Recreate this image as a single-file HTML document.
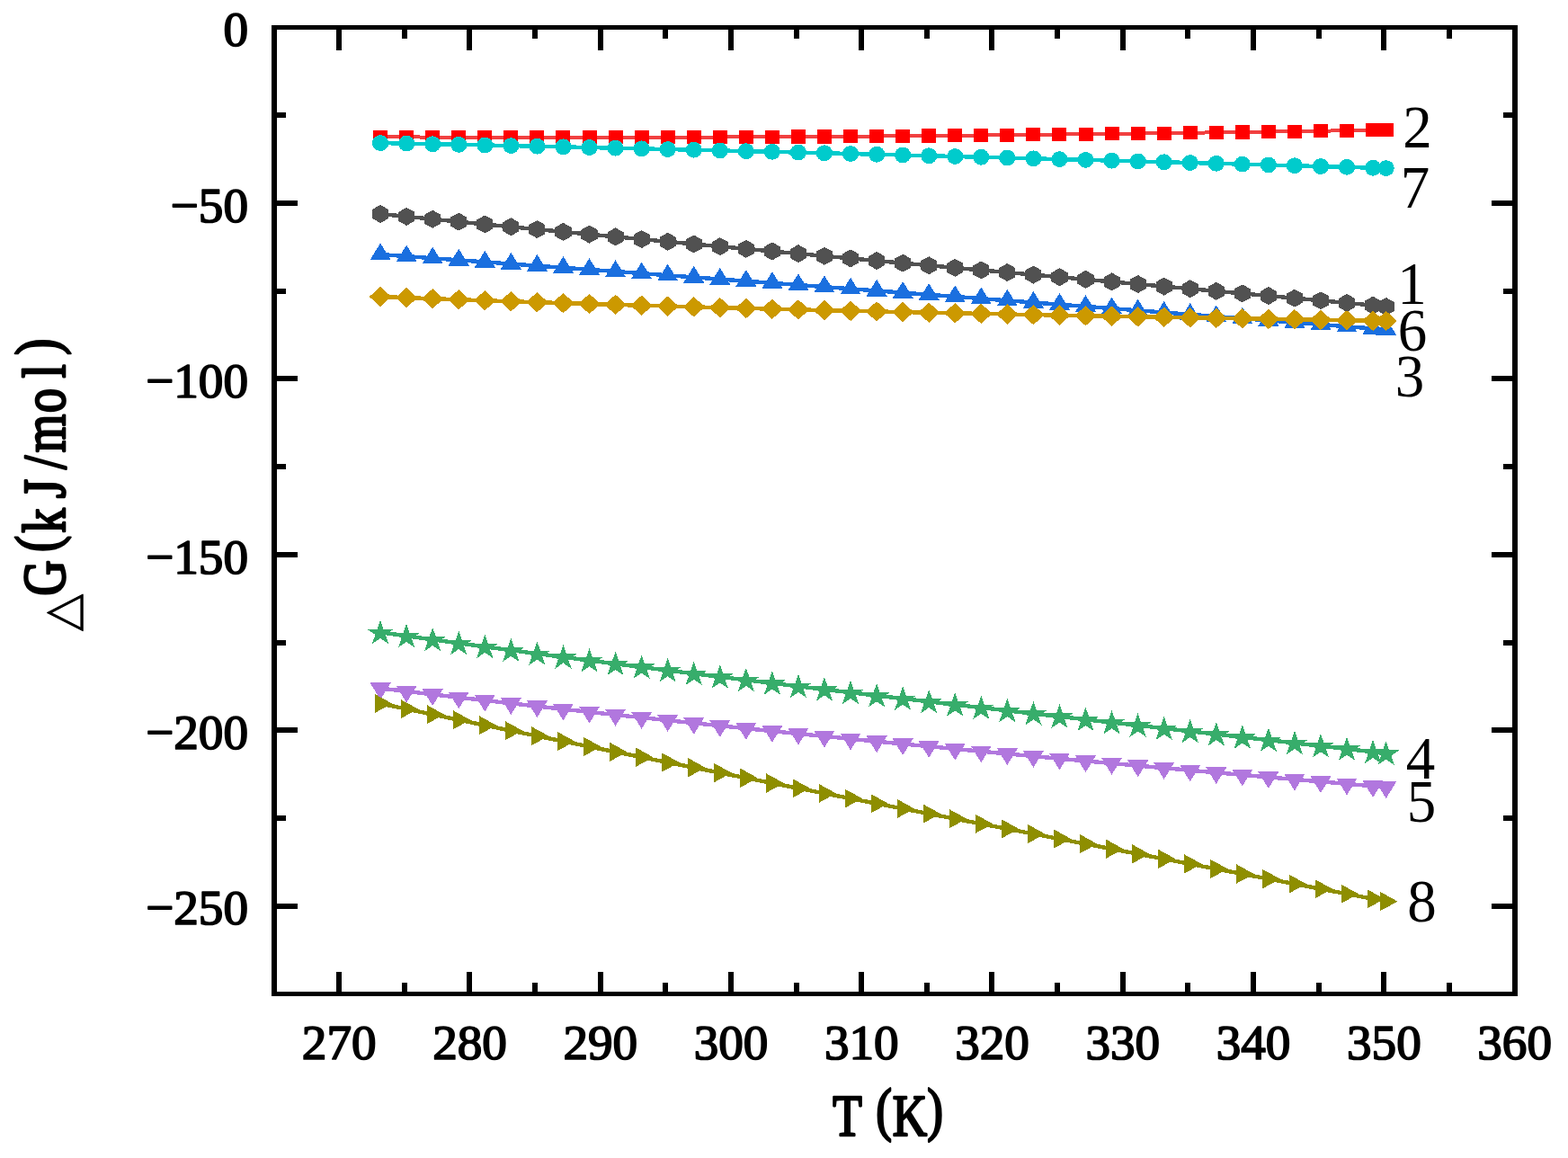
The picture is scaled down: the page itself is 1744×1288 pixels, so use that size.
<!DOCTYPE html>
<html lang="en"><head><meta charset="utf-8"><title>△G(kJ/mol) – T(K)</title>
<style>
html,body{margin:0;padding:0;background:#fff;}
body{width:1744px;height:1288px;overflow:hidden;}
svg{display:block;}
text{font-family:"Liberation Serif","Noto Serif CJK SC",serif;fill:#000;}
.tk{font-weight:normal;font-size:56px;stroke:#000;stroke-width:1.8px;stroke-linejoin:round;}
.ttl{font-weight:normal;font-size:76px;stroke:#000;stroke-width:3.0px;stroke-linejoin:round;}
.sl{font-weight:normal;font-size:65px;}
</style></head><body>
<svg width="1744" height="1288" viewBox="0 0 1744 1288">
<rect x="0" y="0" width="1744" height="1288" fill="#ffffff"/>
<g shape-rendering="crispEdges">
<polyline fill="none" stroke="#515151" stroke-width="4.4" stroke-linejoin="round" points="423.09,237.96 452.14,240.87 481.19,243.75 510.25,246.62 539.3,249.46 568.35,252.27 597.41,255.07 626.46,257.85 655.51,260.61 684.56,263.35 713.62,266.08 742.67,268.79 771.72,271.48 800.77,274.16 829.83,276.83 858.88,279.49 887.93,282.13 916.98,284.77 946.04,287.4 975.09,290.02 1004.14,292.63 1033.19,295.24 1062.25,297.84 1091.3,300.44 1120.35,303.03 1149.41,305.62 1178.46,308.22 1207.51,310.81 1236.56,313.4 1265.62,316 1294.67,318.6 1323.72,321.2 1352.77,323.81 1381.83,326.42 1410.88,329.04 1439.93,331.67 1468.98,334.3 1498.04,336.95 1527.09,339.61 1541.62,340.94"/>
<path fill="#515151" d="M423.09 227.96L432.14 232.96L432.14 242.96L423.09 247.96L414.04 242.96L414.04 232.96ZM452.14 230.87L461.19 235.87L461.19 245.87L452.14 250.87L443.09 245.87L443.09 235.87ZM481.19 233.75L490.24 238.75L490.24 248.75L481.19 253.75L472.14 248.75L472.14 238.75ZM510.25 236.62L519.3 241.62L519.3 251.62L510.25 256.62L501.2 251.62L501.2 241.62ZM539.3 239.46L548.35 244.46L548.35 254.46L539.3 259.46L530.25 254.46L530.25 244.46ZM568.35 242.27L577.4 247.27L577.4 257.27L568.35 262.27L559.3 257.27L559.3 247.27ZM597.41 245.07L606.46 250.07L606.46 260.07L597.41 265.07L588.36 260.07L588.36 250.07ZM626.46 247.85L635.51 252.85L635.51 262.85L626.46 267.85L617.41 262.85L617.41 252.85ZM655.51 250.61L664.56 255.61L664.56 265.61L655.51 270.61L646.46 265.61L646.46 255.61ZM684.56 253.35L693.61 258.35L693.61 268.35L684.56 273.35L675.51 268.35L675.51 258.35ZM713.62 256.08L722.67 261.08L722.67 271.08L713.62 276.08L704.57 271.08L704.57 261.08ZM742.67 258.79L751.72 263.79L751.72 273.79L742.67 278.79L733.62 273.79L733.62 263.79ZM771.72 261.48L780.77 266.48L780.77 276.48L771.72 281.48L762.67 276.48L762.67 266.48ZM800.77 264.16L809.82 269.16L809.82 279.16L800.77 284.16L791.72 279.16L791.72 269.16ZM829.83 266.83L838.88 271.83L838.88 281.83L829.83 286.83L820.78 281.83L820.78 271.83ZM858.88 269.49L867.93 274.49L867.93 284.49L858.88 289.49L849.83 284.49L849.83 274.49ZM887.93 272.13L896.98 277.13L896.98 287.13L887.93 292.13L878.88 287.13L878.88 277.13ZM916.98 274.77L926.03 279.77L926.03 289.77L916.98 294.77L907.93 289.77L907.93 279.77ZM946.04 277.4L955.09 282.4L955.09 292.4L946.04 297.4L936.99 292.4L936.99 282.4ZM975.09 280.02L984.14 285.02L984.14 295.02L975.09 300.02L966.04 295.02L966.04 285.02ZM1004.14 282.63L1013.19 287.63L1013.19 297.63L1004.14 302.63L995.09 297.63L995.09 287.63ZM1033.19 285.24L1042.24 290.24L1042.24 300.24L1033.19 305.24L1024.14 300.24L1024.14 290.24ZM1062.25 287.84L1071.3 292.84L1071.3 302.84L1062.25 307.84L1053.2 302.84L1053.2 292.84ZM1091.3 290.44L1100.35 295.44L1100.35 305.44L1091.3 310.44L1082.25 305.44L1082.25 295.44ZM1120.35 293.03L1129.4 298.03L1129.4 308.03L1120.35 313.03L1111.3 308.03L1111.3 298.03ZM1149.41 295.62L1158.46 300.62L1158.46 310.62L1149.41 315.62L1140.36 310.62L1140.36 300.62ZM1178.46 298.22L1187.51 303.22L1187.51 313.22L1178.46 318.22L1169.41 313.22L1169.41 303.22ZM1207.51 300.81L1216.56 305.81L1216.56 315.81L1207.51 320.81L1198.46 315.81L1198.46 305.81ZM1236.56 303.4L1245.61 308.4L1245.61 318.4L1236.56 323.4L1227.51 318.4L1227.51 308.4ZM1265.62 306L1274.67 311L1274.67 321L1265.62 326L1256.57 321L1256.57 311ZM1294.67 308.6L1303.72 313.6L1303.72 323.6L1294.67 328.6L1285.62 323.6L1285.62 313.6ZM1323.72 311.2L1332.77 316.2L1332.77 326.2L1323.72 331.2L1314.67 326.2L1314.67 316.2ZM1352.77 313.81L1361.82 318.81L1361.82 328.81L1352.77 333.81L1343.72 328.81L1343.72 318.81ZM1381.83 316.42L1390.88 321.42L1390.88 331.42L1381.83 336.42L1372.78 331.42L1372.78 321.42ZM1410.88 319.04L1419.93 324.04L1419.93 334.04L1410.88 339.04L1401.83 334.04L1401.83 324.04ZM1439.93 321.67L1448.98 326.67L1448.98 336.67L1439.93 341.67L1430.88 336.67L1430.88 326.67ZM1468.98 324.3L1478.03 329.3L1478.03 339.3L1468.98 344.3L1459.93 339.3L1459.93 329.3ZM1498.04 326.95L1507.09 331.95L1507.09 341.95L1498.04 346.95L1488.99 341.95L1488.99 331.95ZM1527.09 329.61L1536.14 334.61L1536.14 344.61L1527.09 349.61L1518.04 344.61L1518.04 334.61ZM1541.62 330.94L1550.67 335.94L1550.67 345.94L1541.62 350.94L1532.57 345.94L1532.57 335.94Z"/>
</g>
<g shape-rendering="crispEdges">
<polyline fill="none" stroke="#F14040" stroke-width="4.0" stroke-linejoin="round" points="423.09,152.28 452.14,152.44 481.19,152.57 510.25,152.68 539.3,152.77 568.35,152.83 597.41,152.87 626.46,152.88 655.51,152.88 684.56,152.85 713.62,152.8 742.67,152.73 771.72,152.64 800.77,152.53 829.83,152.4 858.88,152.25 887.93,152.09 916.98,151.9 946.04,151.7 975.09,151.48 1004.14,151.25 1033.19,151 1062.25,150.73 1091.3,150.45 1120.35,150.16 1149.41,149.85 1178.46,149.52 1207.51,149.19 1236.56,148.84 1265.62,148.48 1294.67,148.11 1323.72,147.73 1352.77,147.34 1381.83,146.93 1410.88,146.52 1439.93,146.1 1468.98,145.67 1498.04,145.24 1527.09,144.79 1541.62,144.57"/>
<path fill="#FF0000" d="M415.09 144.68L431.09 144.68L431.09 159.88L415.09 159.88ZM444.14 144.84L460.14 144.84L460.14 160.04L444.14 160.04ZM473.19 144.97L489.19 144.97L489.19 160.17L473.19 160.17ZM502.25 145.08L518.25 145.08L518.25 160.28L502.25 160.28ZM531.3 145.17L547.3 145.17L547.3 160.37L531.3 160.37ZM560.35 145.23L576.35 145.23L576.35 160.43L560.35 160.43ZM589.41 145.27L605.41 145.27L605.41 160.47L589.41 160.47ZM618.46 145.28L634.46 145.28L634.46 160.48L618.46 160.48ZM647.51 145.28L663.51 145.28L663.51 160.48L647.51 160.48ZM676.56 145.25L692.56 145.25L692.56 160.45L676.56 160.45ZM705.62 145.2L721.62 145.2L721.62 160.4L705.62 160.4ZM734.67 145.13L750.67 145.13L750.67 160.33L734.67 160.33ZM763.72 145.04L779.72 145.04L779.72 160.24L763.72 160.24ZM792.77 144.93L808.77 144.93L808.77 160.13L792.77 160.13ZM821.83 144.8L837.83 144.8L837.83 160L821.83 160ZM850.88 144.65L866.88 144.65L866.88 159.85L850.88 159.85ZM879.93 144.49L895.93 144.49L895.93 159.69L879.93 159.69ZM908.98 144.3L924.98 144.3L924.98 159.5L908.98 159.5ZM938.04 144.1L954.04 144.1L954.04 159.3L938.04 159.3ZM967.09 143.88L983.09 143.88L983.09 159.08L967.09 159.08ZM996.14 143.65L1012.14 143.65L1012.14 158.85L996.14 158.85ZM1025.19 143.4L1041.19 143.4L1041.19 158.6L1025.19 158.6ZM1054.25 143.13L1070.25 143.13L1070.25 158.33L1054.25 158.33ZM1083.3 142.85L1099.3 142.85L1099.3 158.05L1083.3 158.05ZM1112.35 142.56L1128.35 142.56L1128.35 157.76L1112.35 157.76ZM1141.41 142.25L1157.41 142.25L1157.41 157.45L1141.41 157.45ZM1170.46 141.92L1186.46 141.92L1186.46 157.12L1170.46 157.12ZM1199.51 141.59L1215.51 141.59L1215.51 156.79L1199.51 156.79ZM1228.56 141.24L1244.56 141.24L1244.56 156.44L1228.56 156.44ZM1257.62 140.88L1273.62 140.88L1273.62 156.08L1257.62 156.08ZM1286.67 140.51L1302.67 140.51L1302.67 155.71L1286.67 155.71ZM1315.72 140.13L1331.72 140.13L1331.72 155.33L1315.72 155.33ZM1344.77 139.74L1360.77 139.74L1360.77 154.94L1344.77 154.94ZM1373.83 139.33L1389.83 139.33L1389.83 154.53L1373.83 154.53ZM1402.88 138.92L1418.88 138.92L1418.88 154.12L1402.88 154.12ZM1431.93 138.5L1447.93 138.5L1447.93 153.7L1431.93 153.7ZM1460.98 138.07L1476.98 138.07L1476.98 153.27L1460.98 153.27ZM1490.04 137.64L1506.04 137.64L1506.04 152.84L1490.04 152.84ZM1519.09 137.19L1535.09 137.19L1535.09 152.39L1519.09 152.39ZM1533.62 136.97L1549.62 136.97L1549.62 152.17L1533.62 152.17Z"/>
</g>
<g shape-rendering="crispEdges">
<polyline fill="none" stroke="#1A6FDF" stroke-width="4.4" stroke-linejoin="round" points="423.09,283 452.14,285.1 481.19,287.2 510.25,289.3 539.3,291.41 568.35,293.52 597.41,295.63 626.46,297.74 655.51,299.86 684.56,301.99 713.62,304.11 742.67,306.24 771.72,308.37 800.77,310.51 829.83,312.65 858.88,314.8 887.93,316.94 916.98,319.1 946.04,321.25 975.09,323.42 1004.14,325.58 1033.19,327.75 1062.25,329.93 1091.3,332.11 1120.35,334.29 1149.41,336.48 1178.46,338.68 1207.51,340.88 1236.56,343.08 1265.62,345.3 1294.67,347.51 1323.72,349.74 1352.77,351.96 1381.83,354.2 1410.88,356.44 1439.93,358.68 1468.98,360.94 1498.04,363.2 1527.09,365.46 1541.62,366.6"/>
<path fill="#1A6FDF" d="M423.09 270.4L434.69 289.2L411.49 289.2ZM452.14 272.5L463.74 291.3L440.54 291.3ZM481.19 274.6L492.79 293.4L469.59 293.4ZM510.25 276.7L521.85 295.5L498.65 295.5ZM539.3 278.81L550.9 297.61L527.7 297.61ZM568.35 280.92L579.95 299.72L556.75 299.72ZM597.41 283.03L609.01 301.83L585.81 301.83ZM626.46 285.14L638.06 303.94L614.86 303.94ZM655.51 287.26L667.11 306.06L643.91 306.06ZM684.56 289.39L696.16 308.19L672.96 308.19ZM713.62 291.51L725.22 310.31L702.02 310.31ZM742.67 293.64L754.27 312.44L731.07 312.44ZM771.72 295.77L783.32 314.57L760.12 314.57ZM800.77 297.91L812.37 316.71L789.17 316.71ZM829.83 300.05L841.43 318.85L818.23 318.85ZM858.88 302.2L870.48 321L847.28 321ZM887.93 304.34L899.53 323.14L876.33 323.14ZM916.98 306.5L928.58 325.3L905.38 325.3ZM946.04 308.65L957.64 327.45L934.44 327.45ZM975.09 310.82L986.69 329.62L963.49 329.62ZM1004.14 312.98L1015.74 331.78L992.54 331.78ZM1033.19 315.15L1044.79 333.95L1021.59 333.95ZM1062.25 317.33L1073.85 336.13L1050.65 336.13ZM1091.3 319.51L1102.9 338.31L1079.7 338.31ZM1120.35 321.69L1131.95 340.49L1108.75 340.49ZM1149.41 323.88L1161.01 342.68L1137.81 342.68ZM1178.46 326.08L1190.06 344.88L1166.86 344.88ZM1207.51 328.28L1219.11 347.08L1195.91 347.08ZM1236.56 330.48L1248.16 349.28L1224.96 349.28ZM1265.62 332.7L1277.22 351.5L1254.02 351.5ZM1294.67 334.91L1306.27 353.71L1283.07 353.71ZM1323.72 337.14L1335.32 355.94L1312.12 355.94ZM1352.77 339.36L1364.37 358.16L1341.17 358.16ZM1381.83 341.6L1393.43 360.4L1370.23 360.4ZM1410.88 343.84L1422.48 362.64L1399.28 362.64ZM1439.93 346.08L1451.53 364.88L1428.33 364.88ZM1468.98 348.34L1480.58 367.14L1457.38 367.14ZM1498.04 350.6L1509.64 369.4L1486.44 369.4ZM1527.09 352.86L1538.69 371.66L1515.49 371.66ZM1541.62 354L1553.22 372.8L1530.02 372.8Z"/>
</g>
<g shape-rendering="crispEdges">
<polyline fill="none" stroke="#37AD6B" stroke-width="4.4" stroke-linejoin="round" points="423.09,703.27 452.14,707.36 481.19,711.4 510.25,715.38 539.3,719.32 568.35,723.21 597.41,727.05 626.46,730.85 655.51,734.61 684.56,738.32 713.62,742 742.67,745.64 771.72,749.25 800.77,752.82 829.83,756.36 858.88,759.88 887.93,763.36 916.98,766.82 946.04,770.25 975.09,773.65 1004.14,777.04 1033.19,780.41 1062.25,783.76 1091.3,787.09 1120.35,790.41 1149.41,793.72 1178.46,797.01 1207.51,800.3 1236.56,803.57 1265.62,806.85 1294.67,810.11 1323.72,813.38 1352.77,816.64 1381.83,819.91 1410.88,823.18 1439.93,826.45 1468.98,829.73 1498.04,833.02 1527.09,836.31 1541.62,837.97"/>
<path fill="#37AD6B" d="M423.09 689.61L426.59 699.74L437.93 699.74L428.76 706.01L432.26 716.14L423.09 709.88L413.92 716.14L417.42 706.01L408.25 699.74L419.59 699.74ZM452.14 693.7L455.64 703.83L466.98 703.83L457.81 710.09L461.31 720.23L452.14 713.96L442.97 720.23L446.47 710.09L437.31 703.83L448.64 703.83ZM481.19 697.73L484.7 707.87L496.03 707.87L486.86 714.13L490.36 724.26L481.19 718L472.03 724.26L475.53 714.13L466.36 707.87L477.69 707.87ZM510.25 701.72L513.75 711.85L525.08 711.85L515.91 718.11L519.42 728.25L510.25 721.98L501.08 728.25L504.58 718.11L495.41 711.85L506.74 711.85ZM539.3 705.65L542.8 715.79L554.14 715.79L544.97 722.05L548.47 732.18L539.3 725.92L530.13 732.18L533.63 722.05L524.46 715.79L535.8 715.79ZM568.35 709.54L571.86 719.68L583.19 719.68L574.02 725.94L577.52 736.07L568.35 729.81L559.18 736.07L562.69 725.94L553.52 719.68L564.85 719.68ZM597.41 713.39L600.91 723.52L612.24 723.52L603.07 729.78L606.57 739.91L597.41 733.65L588.24 739.91L591.74 729.78L582.57 723.52L593.9 723.52ZM626.46 717.19L629.96 727.32L641.29 727.32L632.13 733.58L635.63 743.71L626.46 737.45L617.29 743.71L620.79 733.58L611.62 727.32L622.96 727.32ZM655.51 720.94L659.01 731.08L670.35 731.08L661.18 737.34L664.68 747.47L655.51 741.21L646.34 747.47L649.84 737.34L640.67 731.08L652.01 731.08ZM684.56 724.66L688.07 734.79L699.4 734.79L690.23 741.06L693.73 751.19L684.56 744.93L675.39 751.19L678.9 741.06L669.73 734.79L681.06 734.79ZM713.62 728.34L717.12 738.47L728.45 738.47L719.28 744.73L722.79 754.87L713.62 748.6L704.45 754.87L707.95 744.73L698.78 738.47L710.11 738.47ZM742.67 731.98L746.17 742.11L757.5 742.11L748.34 748.38L751.84 758.51L742.67 752.25L733.5 758.51L737 748.38L727.83 742.11L739.17 742.11ZM771.72 735.59L775.22 745.72L786.56 745.72L777.39 751.98L780.89 762.11L771.72 755.85L762.55 762.11L766.05 751.98L756.88 745.72L768.22 745.72ZM800.77 739.16L804.28 749.29L815.61 749.29L806.44 755.55L809.94 765.69L800.77 759.42L791.6 765.69L795.11 755.55L785.94 749.29L797.27 749.29ZM829.83 742.7L833.33 752.83L844.66 752.83L835.49 759.1L839 769.23L829.83 762.97L820.66 769.23L824.16 759.1L814.99 752.83L826.32 752.83ZM858.88 746.21L862.38 756.34L873.72 756.34L864.55 762.61L868.05 772.74L858.88 766.48L849.71 772.74L853.21 762.61L844.04 756.34L855.38 756.34ZM887.93 749.69L891.43 759.83L902.77 759.83L893.6 766.09L897.1 776.22L887.93 769.96L878.76 776.22L882.26 766.09L873.1 759.83L884.43 759.83ZM916.98 753.15L920.49 763.28L931.82 763.28L922.65 769.55L926.15 779.68L916.98 773.42L907.81 779.68L911.32 769.55L902.15 763.28L913.48 763.28ZM946.04 756.58L949.54 766.71L960.87 766.72L951.7 772.98L955.21 783.11L946.04 776.85L936.87 783.11L940.37 772.98L931.2 766.72L942.53 766.71ZM975.09 759.99L978.59 770.12L989.93 770.12L980.76 776.39L984.26 786.52L975.09 780.26L965.92 786.52L969.42 776.39L960.25 770.12L971.59 770.12ZM1004.14 763.38L1007.64 773.51L1018.98 773.51L1009.81 779.77L1013.31 789.91L1004.14 783.64L994.97 789.91L998.47 779.77L989.31 773.51L1000.64 773.51ZM1033.19 766.75L1036.7 776.88L1048.03 776.88L1038.86 783.14L1042.36 793.27L1033.19 787.01L1024.03 793.27L1027.53 783.14L1018.36 776.88L1029.69 776.88ZM1062.25 770.09L1065.75 780.23L1077.08 780.23L1067.91 786.49L1071.42 796.62L1062.25 790.36L1053.08 796.62L1056.58 786.49L1047.41 780.23L1058.74 780.23ZM1091.3 773.43L1094.8 783.56L1106.14 783.56L1096.97 789.82L1100.47 799.96L1091.3 793.69L1082.13 799.96L1085.63 789.82L1076.46 783.56L1087.8 783.56ZM1120.35 776.75L1123.86 786.88L1135.19 786.88L1126.02 793.14L1129.52 803.27L1120.35 797.01L1111.18 803.27L1114.69 793.14L1105.52 786.88L1116.85 786.88ZM1149.41 780.05L1152.91 790.18L1164.24 790.19L1155.07 796.45L1158.57 806.58L1149.41 800.32L1140.24 806.58L1143.74 796.45L1134.57 790.19L1145.9 790.18ZM1178.46 783.35L1181.96 793.48L1193.29 793.48L1184.13 799.74L1187.63 809.87L1178.46 803.61L1169.29 809.87L1172.79 799.74L1163.62 793.48L1174.96 793.48ZM1207.51 786.63L1211.01 796.77L1222.35 796.77L1213.18 803.03L1216.68 813.16L1207.51 806.9L1198.34 813.16L1201.84 803.03L1192.67 796.77L1204.01 796.77ZM1236.56 789.91L1240.07 800.04L1251.4 800.04L1242.23 806.31L1245.73 816.44L1236.56 810.18L1227.39 816.44L1230.9 806.31L1221.73 800.04L1233.06 800.04ZM1265.62 793.18L1269.12 803.31L1280.45 803.32L1271.28 809.58L1274.79 819.71L1265.62 813.45L1256.45 819.71L1259.95 809.58L1250.78 803.32L1262.11 803.31ZM1294.67 796.45L1298.17 806.58L1309.5 806.58L1300.34 812.85L1303.84 822.98L1294.67 816.72L1285.5 822.98L1289 812.85L1279.83 806.58L1291.17 806.58ZM1323.72 799.72L1327.22 809.85L1338.56 809.85L1329.39 816.11L1332.89 826.24L1323.72 819.98L1314.55 826.24L1318.05 816.11L1308.88 809.85L1320.22 809.85ZM1352.77 802.98L1356.28 813.11L1367.61 813.11L1358.44 819.38L1361.94 829.51L1352.77 823.25L1343.6 829.51L1347.11 819.38L1337.94 813.11L1349.27 813.11ZM1381.83 806.25L1385.33 816.38L1396.66 816.38L1387.49 822.64L1391 832.77L1381.83 826.51L1372.66 832.77L1376.16 822.64L1366.99 816.38L1378.32 816.38ZM1410.88 809.51L1414.38 819.65L1425.72 819.65L1416.55 825.91L1420.05 836.04L1410.88 829.78L1401.71 836.04L1405.21 825.91L1396.04 819.65L1407.38 819.65ZM1439.93 812.79L1443.43 822.92L1454.77 822.92L1445.6 829.18L1449.1 839.31L1439.93 833.05L1430.76 839.31L1434.26 829.18L1425.1 822.92L1436.43 822.92ZM1468.98 816.07L1472.49 826.2L1483.82 826.2L1474.65 832.46L1478.15 842.59L1468.98 836.33L1459.81 842.59L1463.32 832.46L1454.15 826.2L1465.48 826.2ZM1498.04 819.35L1501.54 829.49L1512.87 829.49L1503.7 835.75L1507.21 845.88L1498.04 839.62L1488.87 845.88L1492.37 835.75L1483.2 829.49L1494.53 829.49ZM1527.09 822.65L1530.59 832.78L1541.93 832.78L1532.76 839.04L1536.26 849.18L1527.09 842.92L1517.92 849.18L1521.42 839.04L1512.25 832.78L1523.59 832.78ZM1541.62 824.3L1545.12 834.43L1556.45 834.43L1547.28 840.7L1550.79 850.83L1541.62 844.57L1532.45 850.83L1535.95 840.7L1526.78 834.43L1538.11 834.43Z"/>
</g>
<g shape-rendering="crispEdges">
<polyline fill="none" stroke="#B177DE" stroke-width="4.4" stroke-linejoin="round" points="423.09,765.54 452.14,768.97 481.19,772.36 510.25,775.71 539.3,779.02 568.35,782.3 597.41,785.54 626.46,788.74 655.51,791.91 684.56,795.04 713.62,798.14 742.67,801.21 771.72,804.24 800.77,807.24 829.83,810.22 858.88,813.16 887.93,816.07 916.98,818.96 946.04,821.81 975.09,824.64 1004.14,827.45 1033.19,830.23 1062.25,832.98 1091.3,835.71 1120.35,838.42 1149.41,841.1 1178.46,843.77 1207.51,846.41 1236.56,849.03 1265.62,851.64 1294.67,854.22 1323.72,856.79 1352.77,859.34 1381.83,861.87 1410.88,864.39 1439.93,866.89 1468.98,869.38 1498.04,871.86 1527.09,874.33 1541.62,875.55"/>
<path fill="#B177DE" d="M423.09 778.14L434.69 759.34L411.49 759.34ZM452.14 781.57L463.74 762.77L440.54 762.77ZM481.19 784.96L492.79 766.16L469.59 766.16ZM510.25 788.31L521.85 769.51L498.65 769.51ZM539.3 791.62L550.9 772.82L527.7 772.82ZM568.35 794.9L579.95 776.1L556.75 776.1ZM597.41 798.14L609.01 779.34L585.81 779.34ZM626.46 801.34L638.06 782.54L614.86 782.54ZM655.51 804.51L667.11 785.71L643.91 785.71ZM684.56 807.64L696.16 788.84L672.96 788.84ZM713.62 810.74L725.22 791.94L702.02 791.94ZM742.67 813.81L754.27 795.01L731.07 795.01ZM771.72 816.84L783.32 798.04L760.12 798.04ZM800.77 819.84L812.37 801.04L789.17 801.04ZM829.83 822.82L841.43 804.02L818.23 804.02ZM858.88 825.76L870.48 806.96L847.28 806.96ZM887.93 828.67L899.53 809.87L876.33 809.87ZM916.98 831.56L928.58 812.76L905.38 812.76ZM946.04 834.41L957.64 815.61L934.44 815.61ZM975.09 837.24L986.69 818.44L963.49 818.44ZM1004.14 840.05L1015.74 821.25L992.54 821.25ZM1033.19 842.83L1044.79 824.03L1021.59 824.03ZM1062.25 845.58L1073.85 826.78L1050.65 826.78ZM1091.3 848.31L1102.9 829.51L1079.7 829.51ZM1120.35 851.02L1131.95 832.22L1108.75 832.22ZM1149.41 853.7L1161.01 834.9L1137.81 834.9ZM1178.46 856.37L1190.06 837.57L1166.86 837.57ZM1207.51 859.01L1219.11 840.21L1195.91 840.21ZM1236.56 861.63L1248.16 842.83L1224.96 842.83ZM1265.62 864.24L1277.22 845.44L1254.02 845.44ZM1294.67 866.82L1306.27 848.02L1283.07 848.02ZM1323.72 869.39L1335.32 850.59L1312.12 850.59ZM1352.77 871.94L1364.37 853.14L1341.17 853.14ZM1381.83 874.47L1393.43 855.67L1370.23 855.67ZM1410.88 876.99L1422.48 858.19L1399.28 858.19ZM1439.93 879.49L1451.53 860.69L1428.33 860.69ZM1468.98 881.98L1480.58 863.18L1457.38 863.18ZM1498.04 884.46L1509.64 865.66L1486.44 865.66ZM1527.09 886.93L1538.69 868.13L1515.49 868.13ZM1541.62 888.15L1553.22 869.35L1530.02 869.35Z"/>
</g>
<g shape-rendering="crispEdges">
<polyline fill="none" stroke="#CC9900" stroke-width="4.4" stroke-linejoin="round" points="423.09,330.01 452.14,331.12 481.19,332.19 510.25,333.24 539.3,334.25 568.35,335.24 597.41,336.19 626.46,337.12 655.51,338.02 684.56,338.9 713.62,339.75 742.67,340.58 771.72,341.38 800.77,342.17 829.83,342.93 858.88,343.66 887.93,344.38 916.98,345.08 946.04,345.76 975.09,346.43 1004.14,347.07 1033.19,347.7 1062.25,348.32 1091.3,348.92 1120.35,349.51 1149.41,350.08 1178.46,350.65 1207.51,351.2 1236.56,351.74 1265.62,352.27 1294.67,352.8 1323.72,353.31 1352.77,353.82 1381.83,354.32 1410.88,354.82 1439.93,355.31 1468.98,355.8 1498.04,356.29 1527.09,356.77 1541.62,357.02"/>
<path fill="#CC9900" d="M423.09 318.81L435.29 330.01L423.09 341.21L410.89 330.01ZM452.14 319.92L464.34 331.12L452.14 342.32L439.94 331.12ZM481.19 320.99L493.39 332.19L481.19 343.39L468.99 332.19ZM510.25 322.04L522.45 333.24L510.25 344.44L498.05 333.24ZM539.3 323.05L551.5 334.25L539.3 345.45L527.1 334.25ZM568.35 324.04L580.55 335.24L568.35 346.44L556.15 335.24ZM597.41 324.99L609.61 336.19L597.41 347.39L585.21 336.19ZM626.46 325.92L638.66 337.12L626.46 348.32L614.26 337.12ZM655.51 326.82L667.71 338.02L655.51 349.22L643.31 338.02ZM684.56 327.7L696.76 338.9L684.56 350.1L672.36 338.9ZM713.62 328.55L725.82 339.75L713.62 350.95L701.42 339.75ZM742.67 329.38L754.87 340.58L742.67 351.78L730.47 340.58ZM771.72 330.18L783.92 341.38L771.72 352.58L759.52 341.38ZM800.77 330.97L812.97 342.17L800.77 353.37L788.57 342.17ZM829.83 331.73L842.03 342.93L829.83 354.13L817.63 342.93ZM858.88 332.46L871.08 343.66L858.88 354.86L846.68 343.66ZM887.93 333.18L900.13 344.38L887.93 355.58L875.73 344.38ZM916.98 333.88L929.18 345.08L916.98 356.28L904.78 345.08ZM946.04 334.56L958.24 345.76L946.04 356.96L933.84 345.76ZM975.09 335.23L987.29 346.43L975.09 357.63L962.89 346.43ZM1004.14 335.87L1016.34 347.07L1004.14 358.27L991.94 347.07ZM1033.19 336.5L1045.39 347.7L1033.19 358.9L1020.99 347.7ZM1062.25 337.12L1074.45 348.32L1062.25 359.52L1050.05 348.32ZM1091.3 337.72L1103.5 348.92L1091.3 360.12L1079.1 348.92ZM1120.35 338.31L1132.55 349.51L1120.35 360.71L1108.15 349.51ZM1149.41 338.88L1161.61 350.08L1149.41 361.28L1137.21 350.08ZM1178.46 339.45L1190.66 350.65L1178.46 361.85L1166.26 350.65ZM1207.51 340L1219.71 351.2L1207.51 362.4L1195.31 351.2ZM1236.56 340.54L1248.76 351.74L1236.56 362.94L1224.36 351.74ZM1265.62 341.07L1277.82 352.27L1265.62 363.47L1253.42 352.27ZM1294.67 341.6L1306.87 352.8L1294.67 364L1282.47 352.8ZM1323.72 342.11L1335.92 353.31L1323.72 364.51L1311.52 353.31ZM1352.77 342.62L1364.97 353.82L1352.77 365.02L1340.57 353.82ZM1381.83 343.12L1394.03 354.32L1381.83 365.52L1369.63 354.32ZM1410.88 343.62L1423.08 354.82L1410.88 366.02L1398.68 354.82ZM1439.93 344.11L1452.13 355.31L1439.93 366.51L1427.73 355.31ZM1468.98 344.6L1481.18 355.8L1468.98 367L1456.78 355.8ZM1498.04 345.09L1510.24 356.29L1498.04 367.49L1485.84 356.29ZM1527.09 345.57L1539.29 356.77L1527.09 367.97L1514.89 356.77ZM1541.62 345.82L1553.82 357.02L1541.62 368.22L1529.42 357.02Z"/>
</g>
<g shape-rendering="crispEdges">
<polyline fill="none" stroke="#00CBCC" stroke-width="4.4" stroke-linejoin="round" points="423.09,159.08 452.14,159.67 481.19,160.26 510.25,160.87 539.3,161.48 568.35,162.11 597.41,162.74 626.46,163.39 655.51,164.04 684.56,164.7 713.62,165.37 742.67,166.05 771.72,166.74 800.77,167.44 829.83,168.14 858.88,168.85 887.93,169.57 916.98,170.29 946.04,171.02 975.09,171.76 1004.14,172.5 1033.19,173.25 1062.25,174.01 1091.3,174.77 1120.35,175.54 1149.41,176.31 1178.46,177.08 1207.51,177.87 1236.56,178.65 1265.62,179.44 1294.67,180.24 1323.72,181.03 1352.77,181.83 1381.83,182.64 1410.88,183.44 1439.93,184.25 1468.98,185.07 1498.04,185.88 1527.09,186.7 1541.62,187.11"/>
<g fill="#00CBCC"><ellipse cx="423.09" cy="159.08" rx="9.1" ry="8.9"/><ellipse cx="452.14" cy="159.67" rx="9.1" ry="8.9"/><ellipse cx="481.19" cy="160.26" rx="9.1" ry="8.9"/><ellipse cx="510.25" cy="160.87" rx="9.1" ry="8.9"/><ellipse cx="539.3" cy="161.48" rx="9.1" ry="8.9"/><ellipse cx="568.35" cy="162.11" rx="9.1" ry="8.9"/><ellipse cx="597.41" cy="162.74" rx="9.1" ry="8.9"/><ellipse cx="626.46" cy="163.39" rx="9.1" ry="8.9"/><ellipse cx="655.51" cy="164.04" rx="9.1" ry="8.9"/><ellipse cx="684.56" cy="164.7" rx="9.1" ry="8.9"/><ellipse cx="713.62" cy="165.37" rx="9.1" ry="8.9"/><ellipse cx="742.67" cy="166.05" rx="9.1" ry="8.9"/><ellipse cx="771.72" cy="166.74" rx="9.1" ry="8.9"/><ellipse cx="800.77" cy="167.44" rx="9.1" ry="8.9"/><ellipse cx="829.83" cy="168.14" rx="9.1" ry="8.9"/><ellipse cx="858.88" cy="168.85" rx="9.1" ry="8.9"/><ellipse cx="887.93" cy="169.57" rx="9.1" ry="8.9"/><ellipse cx="916.98" cy="170.29" rx="9.1" ry="8.9"/><ellipse cx="946.04" cy="171.02" rx="9.1" ry="8.9"/><ellipse cx="975.09" cy="171.76" rx="9.1" ry="8.9"/><ellipse cx="1004.14" cy="172.5" rx="9.1" ry="8.9"/><ellipse cx="1033.19" cy="173.25" rx="9.1" ry="8.9"/><ellipse cx="1062.25" cy="174.01" rx="9.1" ry="8.9"/><ellipse cx="1091.3" cy="174.77" rx="9.1" ry="8.9"/><ellipse cx="1120.35" cy="175.54" rx="9.1" ry="8.9"/><ellipse cx="1149.41" cy="176.31" rx="9.1" ry="8.9"/><ellipse cx="1178.46" cy="177.08" rx="9.1" ry="8.9"/><ellipse cx="1207.51" cy="177.87" rx="9.1" ry="8.9"/><ellipse cx="1236.56" cy="178.65" rx="9.1" ry="8.9"/><ellipse cx="1265.62" cy="179.44" rx="9.1" ry="8.9"/><ellipse cx="1294.67" cy="180.24" rx="9.1" ry="8.9"/><ellipse cx="1323.72" cy="181.03" rx="9.1" ry="8.9"/><ellipse cx="1352.77" cy="181.83" rx="9.1" ry="8.9"/><ellipse cx="1381.83" cy="182.64" rx="9.1" ry="8.9"/><ellipse cx="1410.88" cy="183.44" rx="9.1" ry="8.9"/><ellipse cx="1439.93" cy="184.25" rx="9.1" ry="8.9"/><ellipse cx="1468.98" cy="185.07" rx="9.1" ry="8.9"/><ellipse cx="1498.04" cy="185.88" rx="9.1" ry="8.9"/><ellipse cx="1527.09" cy="186.7" rx="9.1" ry="8.9"/><ellipse cx="1541.62" cy="187.11" rx="9.1" ry="8.9"/></g>
</g>
<g shape-rendering="crispEdges">
<polyline fill="none" stroke="#8E8E00" stroke-width="4.4" stroke-linejoin="round" points="423.09,782.51 452.14,788.61 481.19,794.68 510.25,800.72 539.3,806.73 568.35,812.7 597.41,818.65 626.46,824.57 655.51,830.46 684.56,836.33 713.62,842.17 742.67,847.99 771.72,853.78 800.77,859.56 829.83,865.31 858.88,871.04 887.93,876.76 916.98,882.45 946.04,888.13 975.09,893.8 1004.14,899.45 1033.19,905.08 1062.25,910.7 1091.3,916.32 1120.35,921.92 1149.41,927.51 1178.46,933.09 1207.51,938.67 1236.56,944.24 1265.62,949.81 1294.67,955.37 1323.72,960.92 1352.77,966.48 1381.83,972.03 1410.88,977.59 1439.93,983.14 1468.98,988.7 1498.04,994.26 1527.09,999.83 1541.62,1002.61"/>
<path fill="#8E8E00" d="M435.99 782.51L416.69 771.91L416.69 793.11ZM465.04 788.61L445.74 778.01L445.74 799.21ZM494.09 794.68L474.79 784.08L474.79 805.28ZM523.15 800.72L503.85 790.12L503.85 811.32ZM552.2 806.73L532.9 796.13L532.9 817.33ZM581.25 812.7L561.95 802.1L561.95 823.3ZM610.31 818.65L591.01 808.05L591.01 829.25ZM639.36 824.57L620.06 813.97L620.06 835.17ZM668.41 830.46L649.11 819.86L649.11 841.06ZM697.46 836.33L678.16 825.73L678.16 846.93ZM726.52 842.17L707.22 831.57L707.22 852.77ZM755.57 847.99L736.27 837.39L736.27 858.59ZM784.62 853.78L765.32 843.18L765.32 864.38ZM813.67 859.56L794.37 848.96L794.37 870.16ZM842.73 865.31L823.43 854.71L823.43 875.91ZM871.78 871.04L852.48 860.44L852.48 881.64ZM900.83 876.76L881.53 866.16L881.53 887.36ZM929.88 882.45L910.58 871.85L910.58 893.05ZM958.94 888.13L939.64 877.53L939.64 898.73ZM987.99 893.8L968.69 883.2L968.69 904.4ZM1017.04 899.45L997.74 888.85L997.74 910.05ZM1046.09 905.08L1026.79 894.48L1026.79 915.68ZM1075.15 910.7L1055.85 900.1L1055.85 921.3ZM1104.2 916.32L1084.9 905.72L1084.9 926.92ZM1133.25 921.92L1113.95 911.32L1113.95 932.52ZM1162.31 927.51L1143.01 916.91L1143.01 938.11ZM1191.36 933.09L1172.06 922.49L1172.06 943.69ZM1220.41 938.67L1201.11 928.07L1201.11 949.27ZM1249.46 944.24L1230.16 933.64L1230.16 954.84ZM1278.52 949.81L1259.22 939.21L1259.22 960.41ZM1307.57 955.37L1288.27 944.77L1288.27 965.97ZM1336.62 960.92L1317.32 950.32L1317.32 971.52ZM1365.67 966.48L1346.37 955.88L1346.37 977.08ZM1394.73 972.03L1375.43 961.43L1375.43 982.63ZM1423.78 977.59L1404.48 966.99L1404.48 988.19ZM1452.83 983.14L1433.53 972.54L1433.53 993.74ZM1481.88 988.7L1462.58 978.1L1462.58 999.3ZM1510.94 994.26L1491.64 983.66L1491.64 1004.86ZM1539.99 999.83L1520.69 989.23L1520.69 1010.43ZM1554.52 1002.61L1535.22 992.01L1535.22 1013.21Z"/>
</g>
<g fill="#000" shape-rendering="crispEdges">
<rect x="302" y="28" width="6" height="1080"/>
<rect x="1682" y="28" width="6" height="1080"/>
<rect x="302" y="28" width="1386" height="5"/>
<rect x="302" y="1103" width="1386" height="5"/>
<rect x="374" y="33" width="6" height="23"/>
<rect x="374" y="1081" width="6" height="22"/>
<rect x="447" y="33" width="6" height="10"/>
<rect x="447" y="1093" width="6" height="10"/>
<rect x="519" y="33" width="6" height="23"/>
<rect x="519" y="1081" width="6" height="22"/>
<rect x="592" y="33" width="6" height="10"/>
<rect x="592" y="1093" width="6" height="10"/>
<rect x="665" y="33" width="6" height="23"/>
<rect x="665" y="1081" width="6" height="22"/>
<rect x="737" y="33" width="6" height="10"/>
<rect x="737" y="1093" width="6" height="10"/>
<rect x="810" y="33" width="6" height="23"/>
<rect x="810" y="1081" width="6" height="22"/>
<rect x="883" y="33" width="6" height="10"/>
<rect x="883" y="1093" width="6" height="10"/>
<rect x="955" y="33" width="6" height="23"/>
<rect x="955" y="1081" width="6" height="22"/>
<rect x="1028" y="33" width="6" height="10"/>
<rect x="1028" y="1093" width="6" height="10"/>
<rect x="1100" y="33" width="6" height="23"/>
<rect x="1100" y="1081" width="6" height="22"/>
<rect x="1173" y="33" width="6" height="10"/>
<rect x="1173" y="1093" width="6" height="10"/>
<rect x="1246" y="33" width="6" height="23"/>
<rect x="1246" y="1081" width="6" height="22"/>
<rect x="1318" y="33" width="6" height="10"/>
<rect x="1318" y="1093" width="6" height="10"/>
<rect x="1391" y="33" width="6" height="23"/>
<rect x="1391" y="1081" width="6" height="22"/>
<rect x="1464" y="33" width="6" height="10"/>
<rect x="1464" y="1093" width="6" height="10"/>
<rect x="1536" y="33" width="6" height="23"/>
<rect x="1536" y="1081" width="6" height="22"/>
<rect x="1609" y="33" width="6" height="10"/>
<rect x="1609" y="1093" width="6" height="10"/>
<rect x="308" y="1005" width="23" height="6"/>
<rect x="1659" y="1005" width="23" height="6"/>
<rect x="308" y="907" width="10" height="6"/>
<rect x="1672" y="907" width="10" height="6"/>
<rect x="308" y="809" width="23" height="6"/>
<rect x="1659" y="809" width="23" height="6"/>
<rect x="308" y="712" width="10" height="6"/>
<rect x="1672" y="712" width="10" height="6"/>
<rect x="308" y="614" width="23" height="6"/>
<rect x="1659" y="614" width="23" height="6"/>
<rect x="308" y="516" width="10" height="6"/>
<rect x="1672" y="516" width="10" height="6"/>
<rect x="308" y="418" width="23" height="6"/>
<rect x="1659" y="418" width="23" height="6"/>
<rect x="308" y="321" width="10" height="6"/>
<rect x="1672" y="321" width="10" height="6"/>
<rect x="308" y="223" width="23" height="6"/>
<rect x="1659" y="223" width="23" height="6"/>
<rect x="308" y="125" width="10" height="6"/>
<rect x="1672" y="125" width="10" height="6"/>
</g>
<g class="tk" text-anchor="middle">
<text transform="translate(377.23 1177.9) scale(0.985 0.97)">270</text>
<text transform="translate(522.49 1177.9) scale(0.985 0.97)">280</text>
<text transform="translate(667.76 1177.9) scale(0.985 0.97)">290</text>
<text transform="translate(813.02 1177.9) scale(0.985 0.97)">300</text>
<text transform="translate(958.28 1177.9) scale(0.985 0.97)">310</text>
<text transform="translate(1103.55 1177.9) scale(0.985 0.97)">320</text>
<text transform="translate(1248.81 1177.9) scale(0.985 0.97)">330</text>
<text transform="translate(1394.07 1177.9) scale(0.985 0.97)">340</text>
<text transform="translate(1539.34 1177.9) scale(0.985 0.97)">350</text>
<text transform="translate(1684.6 1177.9) scale(0.985 0.97)">360</text>
</g>
<g class="tk" text-anchor="end">
<text transform="translate(276 51.2) scale(0.985 0.97)">0</text>
<text transform="translate(276 246.65) scale(0.985 0.97)">−50</text>
<text transform="translate(276 442.11) scale(0.985 0.97)">−100</text>
<text transform="translate(276 637.56) scale(0.985 0.97)">−150</text>
<text transform="translate(276 833.02) scale(0.985 0.97)">−200</text>
<text transform="translate(276 1028.47) scale(0.985 0.97)">−250</text>
</g>
<g class="sl" text-anchor="middle">
<text transform="translate(1576.5 164) scale(1.0 1.025)">2</text>
<text transform="translate(1574 231) scale(1.0 1.025)">7</text>
<text transform="translate(1570.5 338) scale(1.0 1.025)">1</text>
<text transform="translate(1571 390) scale(1.0 1.025)">6</text>
<text transform="translate(1568 441) scale(1.0 1.025)">3</text>
<text transform="translate(1580 866) scale(1.0 1.025)">4</text>
<text transform="translate(1581 913.5) scale(1.0 1.025)">5</text>
<text transform="translate(1581.5 1025) scale(1.0 1.025)">8</text>
</g>
<text class="ttl" text-anchor="middle" transform="translate(988 1262.5) scale(0.7 0.86)" x="-65 -7.14 34.29 74.29" y="0 -7 0 -7">T(K)</text>
<text class="ttl" text-anchor="middle" transform="translate(71.8 702) rotate(-90) scale(0.72 0.885)" x="28.47 81.94 134.72 170.83 219.86 260.42 305.56 356.25 401.39 438.89" y="26 0 -8.5 0 0 0 0 0 0 -8.5"><tspan style="font-family:'Liberation Serif','NanumGothic',serif;font-weight:normal;font-size:72px;stroke-width:1.6px">△</tspan>G(kJ/mol)</text>
</svg>
</body></html>
